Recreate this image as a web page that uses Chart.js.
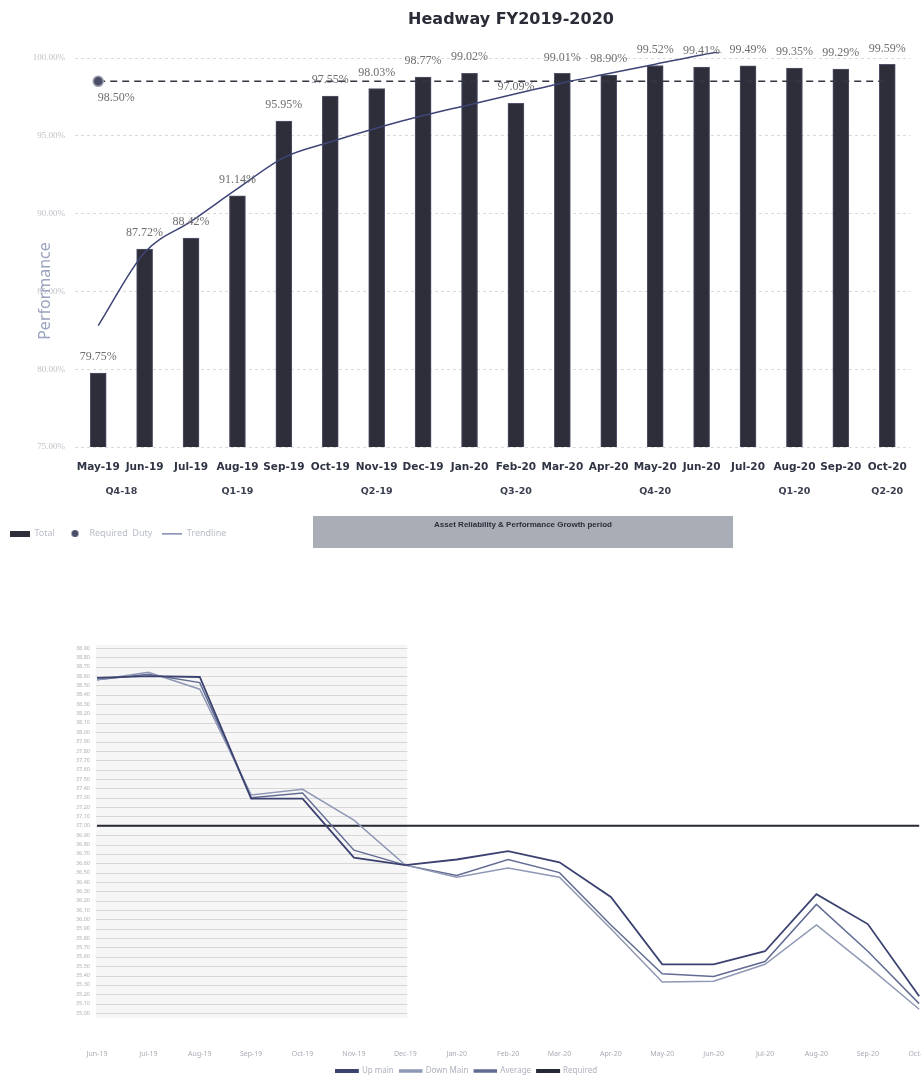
<!DOCTYPE html>
<html>
<head>
<meta charset="utf-8">
<script src="https://cdn.jsdelivr.net/npm/chart.js@4.4.0/dist/chart.umd.min.js"></script>
<style>
    html, body { margin: 0; padding: 0; background: #fff; overflow: hidden; }
    #wrap-headway { position: absolute; left: 0; top: 0; width: 921px; height: 560px; }
    #wrap-minutes { position: absolute; left: 0; top: 560px; width: 967px; height: 525px; }
</style>
</head>
<body>
<div id="wrap-headway"><canvas id="chart-headway"></canvas></div>
<div id="wrap-minutes"><canvas id="chart-minutes"></canvas></div>
<script>
// ---- top chart data
const months = ['May-19', 'Jun-19', 'Jul-19', 'Aug-19', 'Sep-19', 'Oct-19', 'Nov-19', 'Dec-19', 'Jan-20',
    'Feb-20', 'Mar-20', 'Apr-20', 'May-20', 'Jun-20', 'Jul-20', 'Aug-20', 'Sep-20', 'Oct-20'];
const quarters = ['Q4-18', 'Q1-19', 'Q2-19', 'Q3-20', 'Q4-20', 'Q1-20', 'Q2-20'];
const quarterFirst = [0, 2, 5, 8, 11, 14, 17];
const quarterLast = [1, 4, 7, 10, 13, 16, 17];
const totalPerf = [79.75, 87.72, 88.42, 91.14, 95.95, 97.55, 98.03, 98.77, 99.02,
    97.09, 99.01, 98.90, 99.52, 99.41, 99.49, 99.35, 99.29, 99.59];
const requiredDuty = [98.5, 98.5, 98.5, 98.5, 98.5, 98.5, 98.5, 98.5, 98.5,
    98.5, 98.5, 98.5, 98.5, 98.5, 98.5, 98.5, 98.5, 98.5];
const trendline = [82.8, 87.5, 89.5, 91.6, 93.6, 94.6, 95.5, 96.3, 97.0,
    97.7, 98.4, 99.0, 99.6, 100.2, 100.7, 101.2, 101.6, 102.0];
const perfMin = 75;
const perfMax = 100;
const perfStep = 5;

// ---- bottom chart data
const months2 = ['Jun-19', 'Jul-19', 'Aug-19', 'Sep-19', 'Oct-19', 'Nov-19', 'Dec-19', 'Jan-20', 'Feb-20',
    'Mar-20', 'Apr-20', 'May-20', 'Jun-20', 'Jul-20', 'Aug-20', 'Sep-20', 'Oct-20'];
const upMain = [38.58, 38.60, 38.59, 37.29, 37.29, 36.66, 36.58, 36.64, 36.73,
    36.61, 36.24, 35.52, 35.52, 35.66, 36.27, 35.95, 35.18];
const downMain = [38.56, 38.64, 38.46, 37.33, 37.39, 37.06, 36.58, 36.45, 36.55,
    36.45, 35.90, 35.33, 35.34, 35.52, 35.94, 35.50, 35.04];
const average = [38.56, 38.62, 38.53, 37.30, 37.35, 36.74, 36.58, 36.47, 36.64,
    36.50, 35.94, 35.42, 35.39, 35.55, 36.16, 35.66, 35.10];
const required = [37.0, 37.0, 37.0, 37.0, 37.0, 37.0, 37.0, 37.0, 37.0,
    37.0, 37.0, 37.0, 37.0, 37.0, 37.0, 37.0, 37.0];
const minMin = 35.0;
const minMax = 38.9;
const minStep = 0.1;
const growthFrom = 'Jun-19';
const growthTo = 'Dec-19';

Chart.defaults.font.family = "'Noto Sans', sans-serif";

// small canvases used as legend markers
function legendMark(w, h, draw) {
    const c = document.createElement('canvas');
    c.width = w;
    c.height = h;
    draw(c.getContext('2d'));
    return c;
}
const markTotal = legendMark(20, 6, (g) => { g.fillStyle = '#2e2e3a'; g.fillRect(0, 0, 20, 6); });
const markRequired = legendMark(9, 9, (g) => {
    g.fillStyle = '#4a4e66';
    g.beginPath();
    g.arc(4.5, 4.5, 3.5, 0, Math.PI * 2);
    g.fill();
});
const markTrend = legendMark(20, 2, (g) => { g.fillStyle = '#6a70a0'; g.fillRect(0, 0, 20, 1.5); });

// text on the top chart: title, axis title, bar values, quarters, banner
const headwayText = {
    id: 'headwayText',
    afterDraw(chart) {
        const ctx = chart.ctx;
        const x = chart.scales.x;
        const y = chart.scales.y;
        ctx.save();
        ctx.textAlign = 'center';
        ctx.textBaseline = 'middle';

        ctx.fillStyle = '#2a2d38';
        ctx.font = "bold 16px 'DejaVu Sans'";
        ctx.fillText('Headway FY2019-2020', 511, 20);

        ctx.save();
        ctx.translate(45, 291);
        ctx.rotate(-Math.PI / 2);
        ctx.fillStyle = '#9aa3bf';
        ctx.font = "16px 'Noto Sans'";
        ctx.fillText('Performance', 0, 0);
        ctx.restore();

        ctx.fillStyle = '#6e6e6e';
        ctx.font = "12px 'Liberation Serif'";
        totalPerf.forEach((v, i) => {
            ctx.fillText(v.toFixed(2) + '%', x.getPixelForValue(i), y.getPixelForValue(v) - 16);
        });
        ctx.fillText(requiredDuty[0].toFixed(2) + '%', x.getPixelForValue(0) + 18, y.getPixelForValue(requiredDuty[0]) + 17);

        ctx.fillStyle = '#3a4050';
        ctx.font = "bold 9.5px 'DejaVu Sans'";
        quarters.forEach((q, i) => {
            const px = (x.getPixelForValue(quarterFirst[i]) + x.getPixelForValue(quarterLast[i])) / 2;
            ctx.fillText(q, px, 492);
        });

        ctx.fillStyle = '#a9adb5';
        ctx.fillRect(313, 516, 420, 32);
        ctx.fillStyle = '#2b2e3a';
        ctx.font = "bold 8px 'Liberation Sans'";
        ctx.fillText('Asset Reliability & Performance Growth period', 523, 525);
        ctx.restore();
    }
};

new Chart(document.getElementById('chart-headway'), {
    type: 'bar',
    data: {
        labels: months,
        datasets: [{
            label: 'Total',
            data: totalPerf,
            backgroundColor: '#2e2e3a',
            borderColor: '#50536a',
            borderWidth: 1,
            barThickness: 16,
            order: 2
        }, {
            type: 'line',
            label: 'Required Duty',
            data: requiredDuty,
            borderColor: '#333744',
            borderWidth: 1.5,
            borderDash: [7, 5],
            pointRadius: (c) => c.dataIndex === 0 ? 5 : 0,
            pointBackgroundColor: '#4a4e66',
            pointBorderColor: '#9aa0b0',
            fill: false,
            order: 1
        }, {
            type: 'line',
            label: 'Trendline',
            data: trendline,
            borderColor: '#3f4577',
            borderWidth: 1.5,
            cubicInterpolationMode: 'monotone',
            pointRadius: 0,
            fill: false,
            clip: { left: 0, top: 6, right: 0, bottom: 0 },
            order: 0
        }]
    },
    options: {
        responsive: true,
        maintainAspectRatio: false,
        animation: false,
        layout: { padding: { top: 58, left: 0, right: 0, bottom: 12 } },
        plugins: {
            tooltip: { enabled: false },
            legend: {
                position: 'bottom',
                align: 'start',
                labels: {
                    usePointStyle: true,
                    pointStyleWidth: 20,
                    boxHeight: 6,
                    padding: 10,
                    color: '#b8bcc6',
                    font: { size: 9 },
                    generateLabels: () => [
                        { text: 'Total', fontColor: '#b8bcc6', pointStyle: markTotal, lineWidth: 0, datasetIndex: 0, lineDash: [] },
                        { text: 'Required  Duty', fontColor: '#b8bcc6', pointStyle: markRequired, lineWidth: 0, datasetIndex: 1, lineDash: [] },
                        { text: 'Trendline', fontColor: '#b8bcc6', pointStyle: markTrend, lineWidth: 0, datasetIndex: 2, lineDash: [] }
                    ]
                }
            }
        },
        scales: {
            x: {
                grid: { display: false, drawTicks: false },
                border: { display: false },
                ticks: {
                    color: '#2f3444',
                    font: { family: 'DejaVu Sans', weight: 'bold', size: 10.5 },
                    padding: 14,
                    maxRotation: 0,
                    autoSkip: false
                },
                afterFit: (s) => { s.height = 72; }
            },
            y: {
                min: perfMin,
                max: perfMax,
                ticks: {
                    stepSize: perfStep,
                    callback: (v) => v.toFixed(2) + '%',
                    color: '#c0c2c8',
                    font: { family: 'Liberation Serif', size: 9 },
                    padding: 10
                },
                grid: { color: '#dadada', drawTicks: false },
                border: { display: false, dash: [3, 3] },
                afterFit: (s) => { s.width = 75; }
            }
        }
    },
    plugins: [headwayText]
});

// shaded growth period with its gridlines
const growthBand = {
    id: 'growthBand',
    beforeDatasetsDraw(chart) {
        const ctx = chart.ctx;
        const area = chart.chartArea;
        const x = chart.scales.x;
        const y = chart.scales.y;
        const x0 = x.getPixelForValue(months2.indexOf(growthFrom)) - 1;
        const x1 = x.getPixelForValue(months2.indexOf(growthTo)) + 2;
        ctx.save();
        ctx.fillStyle = 'rgba(0, 0, 0, 0.035)';
        ctx.fillRect(x0, area.top - 3, x1 - x0, area.bottom - area.top + 8);
        ctx.strokeStyle = 'rgba(0, 0, 0, 0.13)';
        ctx.lineWidth = 1;
        y.ticks.forEach((t) => {
            const py = Math.round(y.getPixelForValue(t.value)) + 0.5;
            ctx.beginPath();
            ctx.moveTo(x0, py);
            ctx.lineTo(x1, py);
            ctx.stroke();
        });
        ctx.restore();
    }
};

new Chart(document.getElementById('chart-minutes'), {
    type: 'line',
    data: {
        labels: months2,
        datasets: [{
            label: 'Up main',
            data: upMain,
            borderColor: '#3b4270',
            backgroundColor: '#3b4270',
            borderWidth: 1.8
        }, {
            label: 'Down Main',
            data: downMain,
            borderColor: '#8f98b5',
            backgroundColor: '#8f98b5',
            borderWidth: 1.5
        }, {
            label: 'Average',
            data: average,
            borderColor: '#636c93',
            backgroundColor: '#636c93',
            borderWidth: 1.5
        }, {
            label: 'Required',
            data: required,
            borderColor: '#262836',
            backgroundColor: '#262836',
            borderWidth: 2
        }]
    },
    options: {
        responsive: true,
        maintainAspectRatio: false,
        animation: false,
        elements: { point: { radius: 0 }, line: { tension: 0 } },
        layout: { padding: { top: 88, left: 0, right: 34, bottom: 0 } },
        plugins: {
            tooltip: { enabled: false },
            legend: {
                position: 'bottom',
                labels: {
                    boxWidth: 22,
                    boxHeight: 2,
                    padding: 6,
                    color: '#aeb2bd',
                    font: { size: 8 }
                }
            }
        },
        scales: {
            x: {
                offset: false,
                grid: { display: false, drawTicks: false },
                border: { display: false },
                ticks: {
                    color: '#a9acb5',
                    font: { size: 7 },
                    padding: 37,
                    maxRotation: 0,
                    autoSkip: false
                },
                afterFit: (s) => { s.height = 48; }
            },
            y: {
                min: minMin,
                max: minMax,
                grid: { display: false, drawTicks: false },
                border: { display: false },
                ticks: {
                    stepSize: minStep,
                    autoSkip: false,
                    callback: (v) => v.toFixed(2),
                    color: '#b0b0b0',
                    font: { size: 5.5 },
                    padding: 7
                },
                afterFit: (s) => { s.width = 97; }
            }
        }
    },
    plugins: [growthBand]
});
</script>
</body>
</html>
